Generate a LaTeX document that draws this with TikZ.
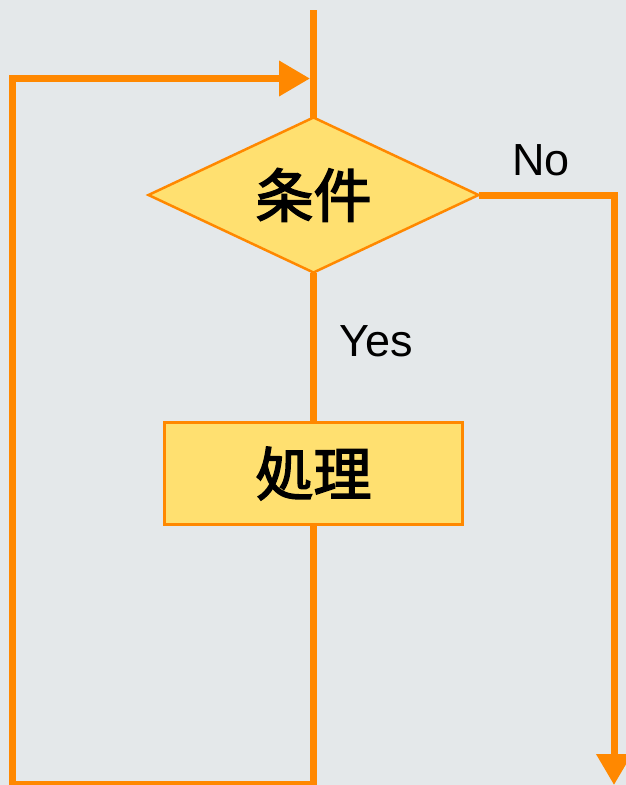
\documentclass[tikz,border=0pt]{standalone}
\usepackage{fontspec}
\setmainfont{Liberation Sans}
\newfontfamily\cjk[FakeBold=2.5]{Noto Sans CJK JP}
\usetikzlibrary{arrows.meta,shapes.geometric,backgrounds}
\definecolor{bg}{HTML}{E4E8EA}
\definecolor{flowor}{HTML}{FF8800}
\definecolor{boxfill}{HTML}{FFE070}
\tikzset{
  flow/.style={draw=flowor, line width=7pt},
  headtip/.style={-{Triangle[length=31pt,width=34pt]}},
  cjklabel/.style={font=\cjk\fontsize{58}{60}\selectfont, text=black},
  latlabel/.style={font=\fontsize{45}{48}\selectfont, text=black, inner sep=0pt},
  decision/.style={diamond, aspect=2.1, draw=flowor, line width=2.5pt, fill=boxfill, inner sep=0pt, outer sep=0pt, minimum width=330pt, minimum height=155pt},
  process/.style={rectangle, draw=flowor, line width=2.5pt, fill=boxfill, inner sep=0pt, outer sep=0pt, minimum width=298pt, minimum height=102pt}
}
\begin{document}
\begin{tikzpicture}[x=1pt,y=-1pt]
  \useasboundingbox (0,0) rectangle (626,785);
  \clip (0,0) rectangle (626,785);
  \coordinate (top) at (313.5,10);
  \coordinate (noend) at (614,785);
  \coordinate (lb) at (12,784);
  \coordinate (tip) at (310,78.5);
  \node[decision, cjklabel] (cond) at (313.5,195) {条件};
  \node[process, cjklabel] (proc) at (313.5,473.5) {処理};
  \node[latlabel] (yes) at (376,341) {Yes};
  \node[latlabel] (no) at (541,160) {No};
  \begin{scope}[on background layer]
    \fill[bg] (0,0) rectangle (626,785);
    \draw[flow] (top) -- (cond.north);
    \draw[flow] (cond.south) -- (proc.north);
    \draw[flow, headtip] (cond.east) -| (noend);
    \draw[flow, headtip] (proc.south) |- (lb) |- (tip);
  \end{scope}
\end{tikzpicture}
\end{document}
